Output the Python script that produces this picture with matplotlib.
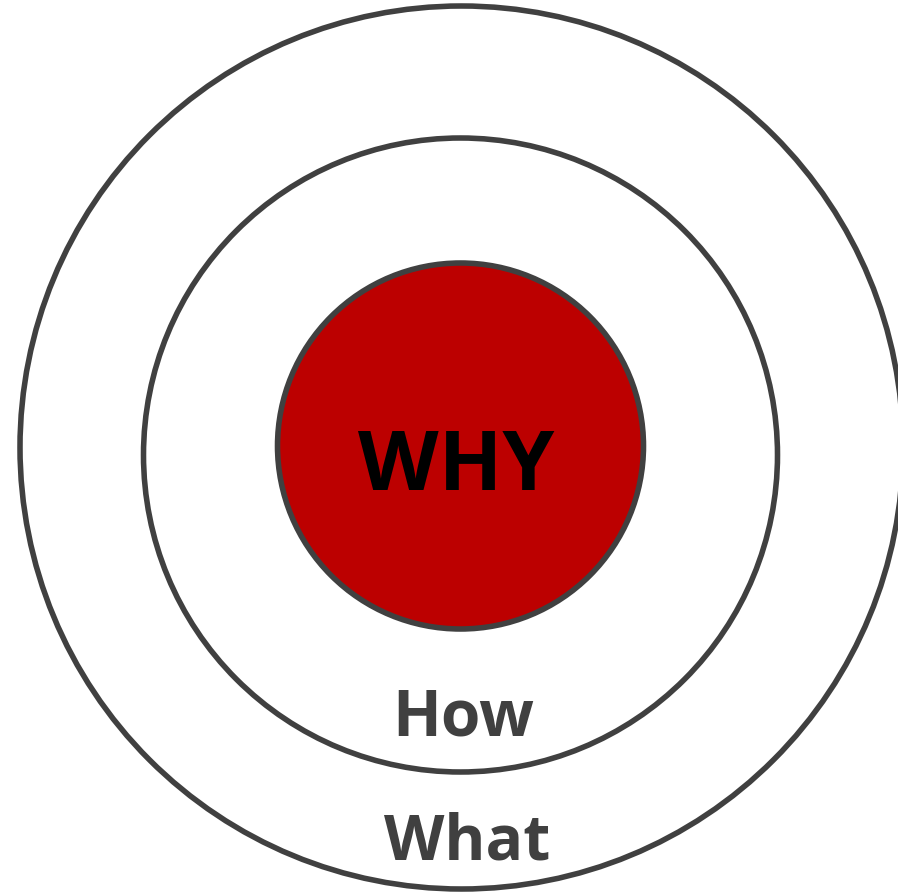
import matplotlib
matplotlib.use('Agg')
from matplotlib import pyplot as plt
from matplotlib.patches import Circle

# Rings, outermost first (pixel units of the original picture)
ring_names = ['What', 'How', 'WHY']
ring_centers = [(461.5, 448.5), (460.5, 456.0), (460.5, 447.0)]
ring_radii = [441.5, 317.0, 183.0]
ring_fills = ['white', 'white', '#BC0000']

# Label positions and sizes
label_positions = [(467, 836), (463, 711), (456, 458)]
label_sizes = [45, 46, 60]
label_colors = ['#404040', '#404040', 'black']

edge_color = '#404040'

fig = plt.figure(figsize=(8.98, 8.95), dpi=100)
ax = fig.add_axes([0, 0, 1, 1])
ax.set_xlim(0, 898)
ax.set_ylim(895, 0)
ax.set_aspect('equal')
ax.axis('off')

for center, r, fill in zip(ring_centers, ring_radii, ring_fills):
    ax.add_patch(Circle(center, r, facecolor=fill, edgecolor=edge_color, linewidth=4.0))

for name, pos, size, color in zip(ring_names, label_positions, label_sizes, label_colors):
    ax.text(pos[0], pos[1], name, ha='center', va='center_baseline', fontsize=size,
            fontweight='bold', color=color, family='Open Sans')

plt.savefig('out.png', dpi=100)
